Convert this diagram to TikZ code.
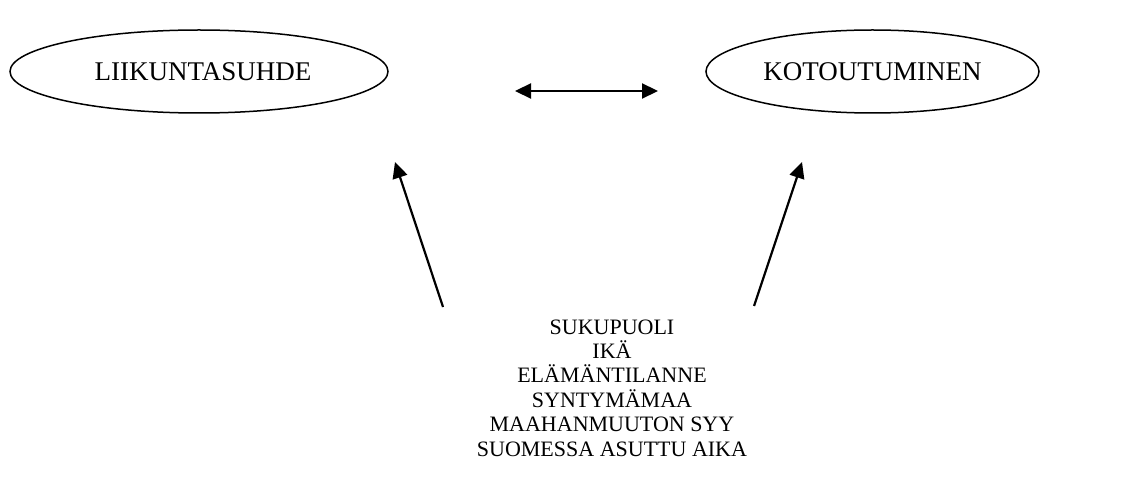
\documentclass[tikz,border=0pt]{standalone}
\usepackage{fontspec}
\setmainfont{Liberation Serif}
\usetikzlibrary{shapes.geometric,arrows.meta}
\tikzset{
  oval/.style={draw, ellipse, line width=1.5pt, inner sep=0pt,
    font=\fontsize{27pt}{31pt}\selectfont},
  conn/.style={line width=2.2pt, -{Triangle[length=16pt,width=15pt]}},
  biconn/.style={line width=2.2pt, {Triangle[length=16pt,width=15pt]}-{Triangle[length=16pt,width=15pt]}},
  factors/.style={align=center, inner sep=0pt, font=\fontsize{22pt}{24.4pt}\selectfont}
}
\begin{document}
\begin{tikzpicture}[x=1pt,y=-1pt]
\fill[white] (0,0) rectangle (1141,494);
\useasboundingbox (0,0) rectangle (1141,494);
\node[oval, minimum width=378pt, minimum height=83pt] (liik) at (199,71.5) {\hspace*{8pt}LIIKUNTASUHDE};
\node[oval, minimum width=333pt, minimum height=83pt] (koto) at (872.5,71.5) {KOTOUTUMINEN};
\node[factors] (tekijat) at (612,388) {SUKUPUOLI\\IKÄ\\ELÄMÄNTILANNE\\SYNTYMÄMAA\\MAAHANMUUTON SYY\\SUOMESSA ASUTTU AIKA};
\coordinate (dl) at (515,91);
\coordinate (dr) at (658,91);
\coordinate (lt) at (443,307);
\coordinate (lh) at (395,162);
\coordinate (rt) at (754,306);
\coordinate (rh) at (802,162);
\draw[biconn] (dl) -- (dr);
\draw[conn] (lt) -- (lh);
\draw[conn] (rt) -- (rh);
\end{tikzpicture}
\end{document}
